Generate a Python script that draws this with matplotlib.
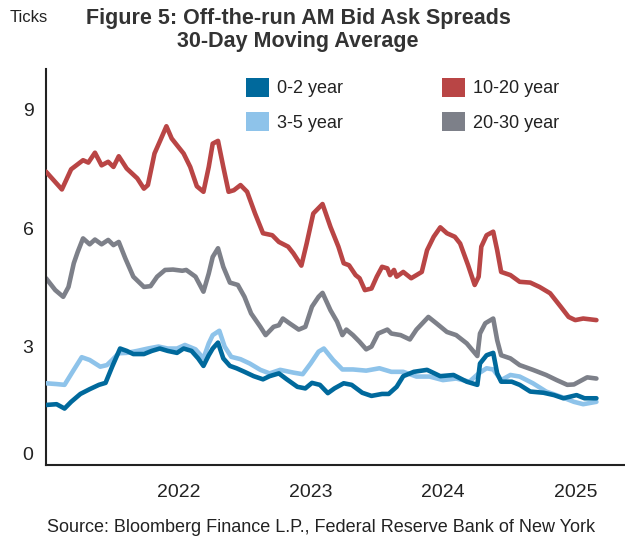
import matplotlib
matplotlib.use('Agg')
import matplotlib.pyplot as plt
from matplotlib.patches import Patch

plt.rcParams['font.family'] = ['Liberation Sans', 'DejaVu Sans']

# 30-day moving average bid/ask spreads (ticks), x in decimal years
red_t = [2021.00, 2021.12, 2021.19, 2021.28, 2021.32, 2021.37, 2021.42, 2021.47, 2021.51,
         2021.55, 2021.61, 2021.69, 2021.74, 2021.77, 2021.82, 2021.87, 2021.91, 2021.95,
         2021.99, 2022.04, 2022.09, 2022.14, 2022.19, 2022.23, 2022.26, 2022.30, 2022.34,
         2022.38, 2022.42, 2022.47, 2022.52, 2022.58, 2022.64, 2022.71, 2022.76, 2022.83,
         2022.87, 2022.93, 2022.97, 2023.02, 2023.09, 2023.15, 2023.21, 2023.25, 2023.29,
         2023.34, 2023.37, 2023.41, 2023.46, 2023.50, 2023.54, 2023.58, 2023.60, 2023.63,
         2023.65, 2023.70, 2023.76, 2023.84, 2023.88, 2023.93, 2023.98, 2024.03, 2024.09,
         2024.13, 2024.19, 2024.24, 2024.27, 2024.29, 2024.33, 2024.38, 2024.41, 2024.44,
         2024.51, 2024.58, 2024.66, 2024.73, 2024.81, 2024.89, 2024.95, 2025.00, 2025.06,
         2025.16]
red_v = [7.43, 6.98, 7.49, 7.72, 7.66, 7.91, 7.59, 7.68, 7.55,
         7.82, 7.51, 7.26, 7.00, 7.09, 7.89, 8.27, 8.58, 8.27,
         8.10, 7.89, 7.55, 7.06, 6.92, 7.55, 8.14, 8.21, 7.55,
         6.92, 6.96, 7.09, 6.92, 6.37, 5.87, 5.82, 5.65, 5.53,
         5.36, 5.05, 5.61, 6.37, 6.61, 6.03, 5.53, 5.11, 5.06,
         4.81, 4.73, 4.43, 4.47, 4.77, 5.02, 4.98, 4.81, 4.94,
         4.77, 4.89, 4.73, 4.89, 5.44, 5.78, 6.02, 5.87, 5.78,
         5.61, 5.06, 4.56, 4.77, 5.53, 5.82, 5.91, 5.44, 4.89,
         4.81, 4.64, 4.62, 4.51, 4.35, 4.01, 3.75, 3.67, 3.71,
         3.67]

gray_t = [2021.00, 2021.07, 2021.13, 2021.17, 2021.21, 2021.24, 2021.28, 2021.33, 2021.37,
          2021.42, 2021.47, 2021.51, 2021.55, 2021.60, 2021.66, 2021.74, 2021.79, 2021.84,
          2021.90, 2021.96, 2022.03, 2022.06, 2022.13, 2022.19, 2022.23, 2022.26, 2022.30,
          2022.34, 2022.39, 2022.45, 2022.50, 2022.55, 2022.62, 2022.66, 2022.72, 2022.76,
          2022.79, 2022.84, 2022.91, 2022.96, 2023.01, 2023.06, 2023.09, 2023.15, 2023.20,
          2023.24, 2023.27, 2023.32, 2023.37, 2023.42, 2023.46, 2023.51, 2023.58, 2023.61,
          2023.68, 2023.75, 2023.80, 2023.89, 2023.95, 2024.03, 2024.10, 2024.18, 2024.26,
          2024.28, 2024.32, 2024.38, 2024.41, 2024.44, 2024.51, 2024.58, 2024.68, 2024.78,
          2024.86, 2024.94, 2024.99, 2025.09, 2025.16]
gray_v = [4.73, 4.43, 4.26, 4.51, 5.11, 5.40, 5.74, 5.59, 5.71,
          5.59, 5.70, 5.57, 5.65, 5.23, 4.77, 4.51, 4.53, 4.77,
          4.94, 4.95, 4.92, 4.94, 4.77, 4.39, 4.85, 5.27, 5.49,
          5.02, 4.62, 4.56, 4.26, 3.84, 3.50, 3.29, 3.50, 3.54,
          3.71, 3.59, 3.43, 3.50, 4.01, 4.26, 4.36, 3.92, 3.63,
          3.29, 3.43, 3.29, 3.12, 2.93, 3.00, 3.33, 3.43, 3.33,
          3.29, 3.18, 3.43, 3.75, 3.59, 3.37, 3.29, 3.08, 2.76,
          3.33, 3.59, 3.71, 3.16, 2.78, 2.70, 2.53, 2.41, 2.28,
          2.15, 2.03, 2.04, 2.22, 2.19]

light_t = [2021.00, 2021.08, 2021.14, 2021.21, 2021.27, 2021.33, 2021.41, 2021.46, 2021.50,
           2021.55, 2021.61, 2021.69, 2021.77, 2021.85, 2021.92, 2021.99, 2022.05, 2022.13,
           2022.19, 2022.23, 2022.26, 2022.31, 2022.35, 2022.40, 2022.47, 2022.54, 2022.62,
           2022.69, 2022.77, 2022.87, 2022.94, 2023.00, 2023.06, 2023.10, 2023.17, 2023.24,
           2023.32, 2023.42, 2023.52, 2023.61, 2023.70, 2023.80, 2023.90, 2024.00, 2024.10,
           2024.20, 2024.27, 2024.33, 2024.38, 2024.44, 2024.51, 2024.58, 2024.68, 2024.78,
           2024.89, 2024.99, 2025.06, 2025.16]
light_v = [2.07, 2.05, 2.03, 2.41, 2.73, 2.66, 2.49, 2.53, 2.66,
           2.83, 2.84, 2.89, 2.95, 3.00, 2.95, 2.95, 3.04, 2.93,
           2.70, 3.08, 3.29, 3.40, 3.00, 2.74, 2.68, 2.57, 2.41,
           2.32, 2.41, 2.34, 2.30, 2.57, 2.87, 2.95, 2.66, 2.42,
           2.42, 2.39, 2.45, 2.36, 2.36, 2.24, 2.24, 2.15, 2.19,
           2.11, 2.32, 2.45, 2.42, 2.15, 2.28, 2.24, 2.07, 1.86,
           1.73, 1.60, 1.54, 1.60]

dark_t = [2021.00, 2021.08, 2021.14, 2021.19, 2021.26, 2021.33, 2021.40, 2021.45, 2021.50,
          2021.56, 2021.61, 2021.66, 2021.74, 2021.80, 2021.86, 2021.92, 2021.99, 2022.04,
          2022.10, 2022.15, 2022.19, 2022.23, 2022.26, 2022.30, 2022.34, 2022.39, 2022.44,
          2022.50, 2022.57, 2022.64, 2022.69, 2022.76, 2022.82, 2022.90, 2022.96, 2023.01,
          2023.07, 2023.13, 2023.18, 2023.25, 2023.31, 2023.39, 2023.46, 2023.54, 2023.59,
          2023.65, 2023.70, 2023.78, 2023.88, 2023.98, 2024.08, 2024.18, 2024.26, 2024.28,
          2024.33, 2024.38, 2024.41, 2024.44, 2024.52, 2024.58, 2024.66, 2024.76, 2024.84,
          2024.91, 2025.01, 2025.07, 2025.16]
dark_v = [1.52, 1.54, 1.43, 1.60, 1.80, 1.92, 2.03, 2.08, 2.49,
          2.95, 2.89, 2.81, 2.81, 2.89, 2.95, 2.89, 2.84, 2.95,
          2.89, 2.70, 2.51, 2.78, 2.95, 3.10, 2.70, 2.51, 2.45,
          2.36, 2.25, 2.17, 2.25, 2.32, 2.17, 1.98, 1.94, 2.08,
          2.03, 1.82, 1.94, 2.07, 2.03, 1.83, 1.75, 1.80, 1.80,
          1.98, 2.25, 2.36, 2.41, 2.25, 2.28, 2.11, 2.03, 2.57,
          2.78, 2.84, 2.32, 2.11, 2.11, 2.03, 1.86, 1.83, 1.77,
          1.69, 1.77, 1.69, 1.69]

labels = ['0-2 year', '3-5 year', '10-20 year', '20-30 year']
colors = ['#00699c', '#8ec3ea', '#b94545', '#7d8089']
year_ticks = [2022, 2023, 2024, 2025]

fig = plt.figure(figsize=(6.25, 5.4), dpi=100)
ax = fig.add_axes([0.0736, 0.1389, 0.9264, 0.7333])

series = [(dark_t, dark_v), (light_t, light_v), (red_t, red_v), (gray_t, gray_v)]
# draw order: gray, red, light blue, dark blue on top
for i in [3, 2, 1, 0]:
    t, v = series[i]
    ax.plot(t, v, color=colors[i], linewidth=3.3, solid_capstyle='round',
            solid_joinstyle='round', zorder=2 + (3 - i))

ax.set_xlim(2021.0, 2025.376)
ax.set_ylim(0, 10.03)
ax.set_xticks(year_ticks, [str(y) for y in year_ticks])
ax.set_yticks([3, 6, 9])
ax.tick_params(axis='both', length=0, labelsize=14, colors='#222222')
ax.tick_params(axis='y', pad=9)
ax.tick_params(axis='x', pad=14)
# zero label sits a bit above the axis line
ax.annotate('0', xy=(0, 0), xycoords=ax.get_yaxis_transform(), xytext=(-9, 7),
            textcoords='offset points', ha='right', va='center', fontsize=14, color='#222222')

for s in ['top', 'right']:
    ax.spines[s].set_visible(False)
for s in ['left', 'bottom']:
    ax.spines[s].set_color('#222222')
    ax.spines[s].set_linewidth(1.5)

handles = [Patch(facecolor=c, edgecolor='none') for c in colors]
ax.legend(handles, labels, ncol=2, loc='upper left', bbox_to_anchor=(0.393, 0.856),
          bbox_transform=fig.transFigure, frameon=False, fontsize=13,
          handlelength=1.28, handleheight=1.22, handletextpad=0.45,
          columnspacing=5.5, labelspacing=0.83, borderpad=0, borderaxespad=0,
          labelcolor='#222222')

fig.text(0.477, 1 - 30 / 540, 'Figure 5: Off-the-run AM Bid Ask Spreads\n30-Day Moving Average',
         ha='center', va='center', fontsize=15.5, fontweight='bold', color='#333333',
         linespacing=1.1)
fig.text(0.016, 1 - 18 / 540, 'Ticks', ha='left', va='center', fontsize=12, color='#222222')
fig.text(321 / 625, 1 - 528 / 540,
         'Source: Bloomberg Finance L.P., Federal Reserve Bank of New York',
         ha='center', va='center', fontsize=13, color='#222222')

fig.savefig('out.png', dpi=100)
